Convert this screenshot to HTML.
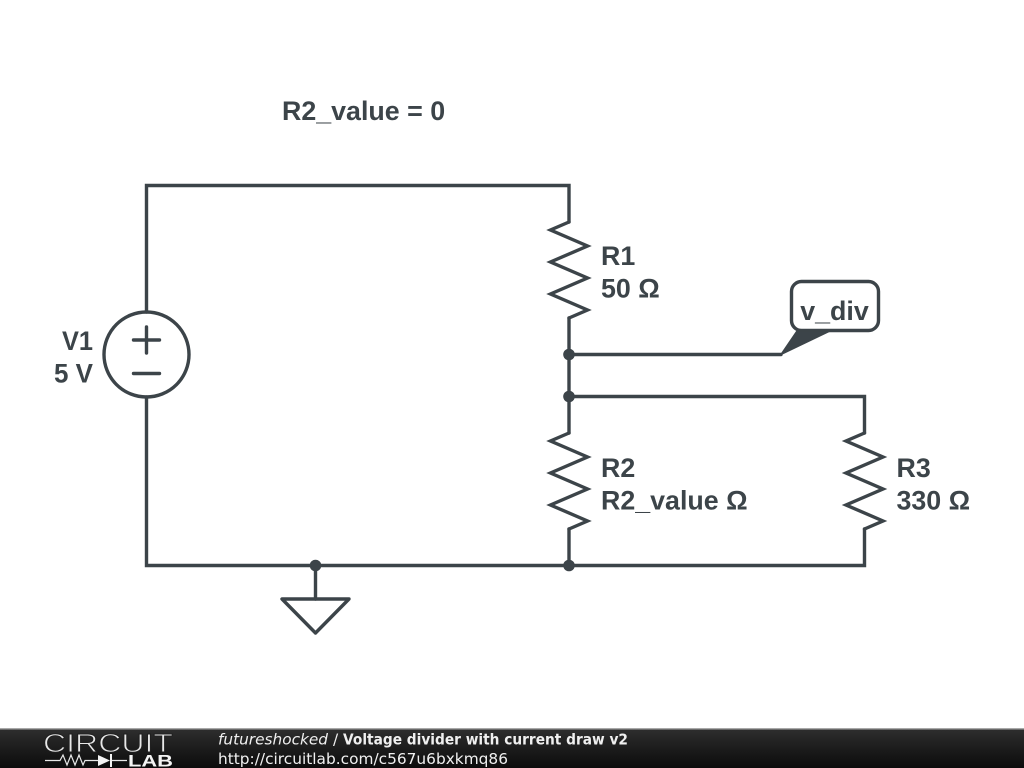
<!DOCTYPE html>
<html>
<head>
<meta charset="utf-8">
<style>
html,body{margin:0;padding:0;background:#fff;width:1024px;height:768px;overflow:hidden}
svg{display:block;position:absolute;left:0;top:0}
text{font-family:"Liberation Sans",sans-serif}
</style>
</head>
<body>
<svg width="1024" height="768" viewBox="0 0 1024 768" xmlns="http://www.w3.org/2000/svg">
<defs>
<linearGradient id="bar" x1="0" y1="0" x2="0" y2="1">
<stop offset="0" stop-color="#2e2e2e"/>
<stop offset="0.5" stop-color="#1c1c1c"/>
<stop offset="1" stop-color="#0c0c0c"/>
</linearGradient>
</defs>
<rect width="1024" height="768" fill="#fff"/>
<g fill="none" stroke="#3c4449" stroke-width="3.400" stroke-linejoin="miter" stroke-miterlimit="6" stroke-linecap="round">
<!-- wires -->
<path d="M146.500 312V185.500H569V222"/>
<path d="M146.500 397V565.500H864.500V529"/>
<path d="M569 318V433"/>
<path d="M569 529V565.500"/>
<path d="M569 354.500H781"/>
<path d="M569 396.500H864.500V433"/>
<path d="M315.500 565.500V599"/>
<!-- resistors -->
<path d="M569 222L550.500 230L587.500 246L550.500 262L587.500 278L550.500 294L587.500 310L569 318"/>
<path d="M569 433L550.500 441L587.500 457L550.500 473L587.500 489L550.500 505L587.500 521L569 529"/>
<path d="M864.500 433L846 441L883 457L846 473L883 489L846 505L883 521L864.500 529"/>
<!-- source -->
<circle cx="146.500" cy="354.500" r="42.500"/>
<path d="M133.500 340H159.500M146.500 327V353M133.500 373.500H159.500"/>
<!-- ground -->
<path d="M282 599H349L315.500 633Z" stroke-linejoin="round"/>
<!-- label -->
<rect x="791.500" y="281.500" width="87" height="49" rx="10" fill="#fff"/>
</g>
<path d="M781 354.500L797 331H830Z" fill="#3c4449" stroke="#3c4449" stroke-width="1.500" stroke-linejoin="round"/>
<g fill="#3c4449">
<circle cx="569" cy="354.500" r="5.800"/>
<circle cx="569" cy="396.500" r="5.800"/>
<circle cx="569" cy="565.500" r="5.800"/>
<circle cx="315.500" cy="565.500" r="5.800"/>
</g>
<g fill="#3c4449" font-size="26.800" font-weight="700">
<text x="282" y="120">R2_value = 0</text>
<text x="601" y="265">R1</text>
<text x="601" y="297.500">50 Ω</text>
<text x="601" y="477">R2</text>
<text x="601" y="509.500">R2_value Ω</text>
<text x="896.500" y="477">R3</text>
<text x="896.500" y="509.500">330 Ω</text>
<text x="93" y="350" text-anchor="end" textLength="31" lengthAdjust="spacingAndGlyphs">V1</text>
<text x="93" y="382.500" text-anchor="end" textLength="39" lengthAdjust="spacingAndGlyphs">5 V</text>
<text x="834.500" y="320" text-anchor="middle">v_div</text>
</g>
<!-- footer -->
<rect x="0" y="729" width="1024" height="39" fill="url(#bar)"/>
<rect x="0" y="728" width="1024" height="1.500" fill="#a8a8a8"/>
<text x="43" y="752" font-size="26" fill="#e8e8e8" stroke="#202020" stroke-width="0.900" textLength="130" lengthAdjust="spacingAndGlyphs">CIRCUIT</text>
<path d="M45 760.500H60L63 755L67 765L71 755L75 765L79 755L83 765L85 760.500H98M111 760.500H127" fill="none" stroke="#e8e8e8" stroke-width="1.200"/>
<path d="M98 755L110 760.500L98 766Z" fill="#f4f4f4"/>
<path d="M111 754V767" stroke="#f4f4f4" stroke-width="2"/>
<text x="128" y="766.500" font-size="16.500" font-weight="700" fill="#f4f4f4" textLength="45" lengthAdjust="spacingAndGlyphs">LAB</text>
<g fill="#f0f0f0" font-size="15.300" style="font-family:'DejaVu Sans',sans-serif">
<text x="218" y="744.500" font-style="italic" style="font-family:'DejaVu Sans',sans-serif" textLength="110" lengthAdjust="spacingAndGlyphs">futureshocked</text>
<text x="333" y="744.500" style="font-family:'DejaVu Sans',sans-serif">/</text>
<text x="343" y="744.500" font-weight="700" style="font-family:'DejaVu Sans',sans-serif" textLength="285" lengthAdjust="spacingAndGlyphs">Voltage divider with current draw v2</text>
<text x="218" y="764" style="font-family:'DejaVu Sans',sans-serif" textLength="290" lengthAdjust="spacingAndGlyphs">http://circuitlab.com/c567u6bxkmq86</text>
</g>
</svg>
</body>
</html>
